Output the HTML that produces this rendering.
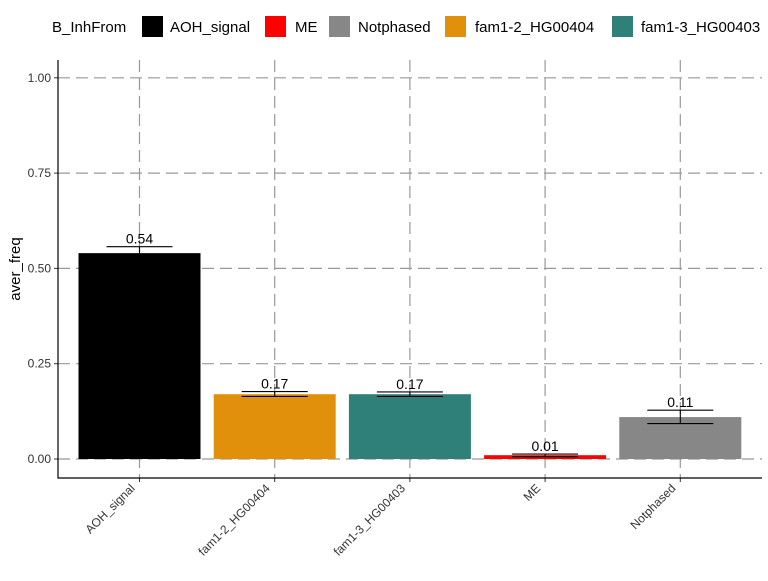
<!DOCTYPE html>
<html><head><meta charset="utf-8"><style>
body{margin:0;background:#fff;font-family:"Liberation Sans",sans-serif}
</style></head><body>
<svg width="768" height="576" xmlns="http://www.w3.org/2000/svg" font-family="Liberation Sans, sans-serif" id="chart">
<g font-size="15" fill="#000">
<text x="52" y="32">B_InhFrom</text>
<rect x="142" y="16" width="21" height="21" fill="#000"/>
<text x="170" y="32">AOH_signal</text>
<rect x="265" y="16" width="21" height="21" fill="#ff0000"/>
<text x="295" y="32">ME</text>
<rect x="329" y="16" width="21" height="21" fill="#878787"/>
<text x="358" y="32">Notphased</text>
<rect x="445" y="16" width="21" height="21" fill="#e0900a"/>
<text x="475" y="32">fam1-2_HG00404</text>
<rect x="612" y="16" width="21" height="21" fill="#2e8079"/>
<text x="641" y="32">fam1-3_HG00403</text>
</g>
<g id="grid"></g>
<g id="plot"></g>
<text transform="translate(20,269) rotate(-90)" text-anchor="middle" font-size="15">aver_freq</text>
</svg>
<script>
const categories=["AOH_signal","fam1-2_HG00404","fam1-3_HG00403","ME","Notphased"];
const values=[0.54,0.17,0.17,0.01,0.11];
const errLow=[0.52,0.164,0.164,0.006,0.093];
const errHigh=[0.557,0.177,0.176,0.013,0.128];
const labels=["0.54","0.17","0.17","0.01","0.11"];
const colors=["#000000","#e0900a","#2e8079","#ff0000","#878787"];
const yTicks=[0,0.25,0.5,0.75,1];
const yTickLabels=["0.00","0.25","0.50","0.75","1.00"];
const NS="http://www.w3.org/2000/svg";
const g=document.getElementById('plot');
const gg=document.getElementById('grid');
const y=v=>459-v*381.2;
const x=i=>139.5+i*135.2;
function mk(t,a,p){const e=document.createElementNS(NS,t);for(const k in a)e.setAttribute(k,a[k]);(p||g).appendChild(e);return e;}
yTicks.forEach((t,i)=>{
 const l=mk('line',{x1:58,x2:762,y1:y(t),y2:y(t),stroke:'#999','stroke-dasharray':'12,6','stroke-width':1.2},gg);
 
 
 const tk=mk('line',{x1:54,x2:58,y1:y(t),y2:y(t),stroke:'#333'});
 
 
 const tx=mk('text',{x:51,y:y(t)+4,'text-anchor':'end','font-size':12,fill:'#333'});
 tx.textContent=yTickLabels[i];
 
 
});
categories.forEach((c,i)=>{
 const l=mk('line',{x1:x(i),x2:x(i),y1:60,y2:478,stroke:'#999','stroke-dasharray':'12,6','stroke-width':1.2},gg);
 
 
 const r=mk('rect',{x:x(i)-61,y:y(values[i]),width:122,height:Math.max(y(0)-y(values[i]),1),fill:colors[i]});
 
 
 const e=mk('path',{d:`M${x(i)-33},${y(errHigh[i])}H${x(i)+33}M${x(i)},${y(errHigh[i])}V${y(errLow[i])}M${x(i)-33},${y(errLow[i])}H${x(i)+33}`,stroke:'#000',fill:'none','stroke-width':1.1});
 
 
 const vt=mk('text',{x:x(i),y:y(errHigh[i])-3,'text-anchor':'middle','font-size':14});
 vt.textContent=labels[i];
 
 
 const tk=mk('line',{x1:x(i),x2:x(i),y1:478,y2:482,stroke:'#333'});
 
 
 const xt=mk('text',{transform:`translate(${x(i)-4},${489}) rotate(-45)`,'text-anchor':'end','font-size':12,fill:'#333'});
 xt.textContent=c;
 
 
});
const ax=mk('path',{d:'M58,60V478H762',stroke:'#000',fill:'none','stroke-width':1.2});


</script>
</body></html>
